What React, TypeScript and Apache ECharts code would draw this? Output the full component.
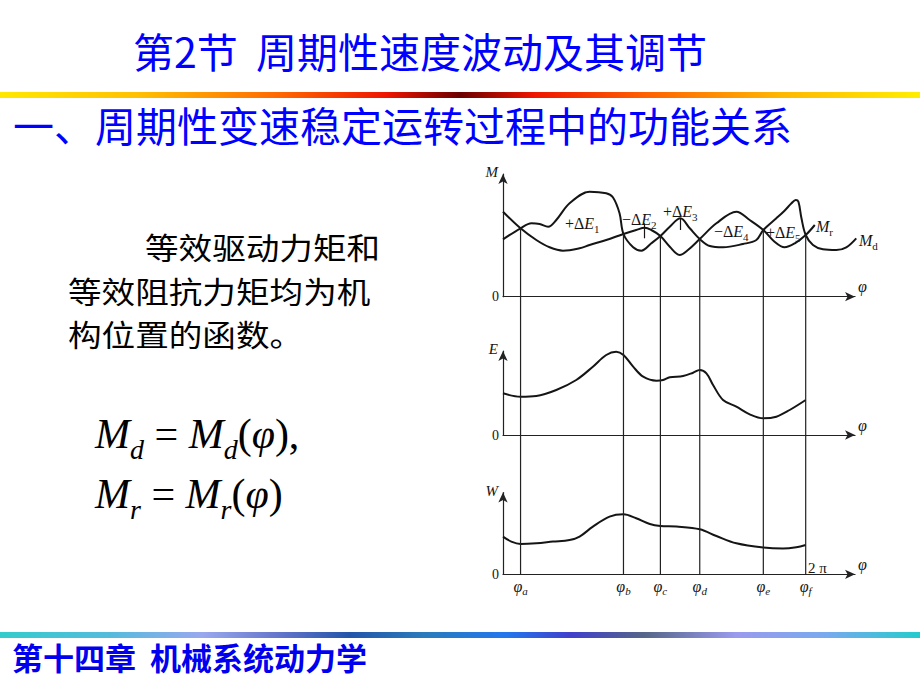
import React, { useEffect, useRef } from "react";
import * as echarts from "echarts";

// ---------- data (φ in units where 2π = 100; values in px-like units above each axis) ----------
const MD_PHI = [0, 5.8, 9.4, 12.1, 14.9, 17.6, 22.0, 28.6, 34.1, 36.3, 38.5, 39.8, 43.0, 45.7, 49.0, 52.0, 55.1, 58.6, 61.7, 65.0, 68.3, 72.7, 79.3, 83.7, 86.0, 90.3, 93.0, 95.3, 96.7, 97.6, 98.6, 100, 102.4, 105.7, 110.1, 113.4, 116.7];
const MD_VAL = [57.4, 68.4, 73.4, 72.7, 70.0, 76.7, 93.4, 105.0, 103.4, 99.4, 83.4, 62.7, 49.4, 46.0, 53.4, 60.7, 70.0, 78.4, 68.4, 57.7, 50.7, 49.4, 52.7, 56.7, 66.7, 78.4, 86.0, 93.4, 96.7, 95.0, 78.4, 61.7, 51.7, 47.4, 46.7, 49.4, 58.4];

const MR_PHI = [0, 5.8, 11.0, 15.4, 19.8, 25.3, 28.6, 34.1, 39.8, 44.0, 46.8, 49.0, 52.0, 55.1, 58.4, 61.1, 65.0, 70.5, 77.1, 81.5, 86.0, 89.7, 93.0, 96.4, 100, 103.0];
const MR_VAL = [85.0, 68.4, 56.7, 49.4, 46.0, 48.4, 51.7, 56.7, 62.7, 66.7, 69.0, 66.7, 60.7, 50.0, 41.7, 46.7, 57.7, 73.4, 85.0, 76.7, 66.7, 55.0, 49.4, 53.4, 61.7, 71.7];

const E_PHI = [0, 5.8, 11.0, 17.6, 24.2, 29.7, 34.1, 37.4, 39.8, 43.0, 46.3, 50.7, 52.9, 55.1, 59.5, 62.8, 65.0, 67.2, 69.4, 72.7, 77.1, 81.5, 86.0, 90.3, 94.7, 100];
const E_VAL = [41.7, 38.3, 39.0, 45.0, 55.0, 68.3, 80.0, 83.3, 80.0, 68.3, 58.3, 54.3, 55.0, 57.7, 59.0, 62.3, 65.0, 61.7, 50.0, 35.0, 28.3, 20.7, 16.7, 18.3, 25.0, 35.0];

const W_PHI = [0, 2.75, 5.8, 11.0, 16.5, 22.0, 25.3, 29.7, 35.2, 39.8, 44.0, 48.5, 52.0, 57.3, 65.0, 70.5, 77.1, 86.0, 92.5, 96.9, 100];
const W_VAL = [37.7, 32.7, 30.3, 31.0, 32.7, 34.3, 37.7, 47.7, 57.7, 60.0, 56.0, 50.3, 48.3, 47.7, 45.0, 38.3, 31.0, 26.7, 25.7, 27.0, 29.3];

const PHI_MARKS = [5.8, 39.8, 52.0, 65.0, 86.0, 100];
const PHI_NAMES = ["a", "b", "c", "d", "e", "f"];
const CROSS_VAL = [68.4, 62.7, 60.7, 57.7, 66.7, 61.7];

const TICK_MARKS = [
  { phi: 46.5, from: 73.4, to: 58.4 },
  { phi: 58.6, from: 78.4, to: 66.7 },
];

const DELTA_SIGNS = ["+", "−", "+", "−", "+"];
const DELTA_INDEX = ["1", "2", "3", "4", "5"];

const TITLE = "第2节  周期性速度波动及其调节";
const SUBTITLE = "一、周期性变速稳定运转过程中的功能关系";
const BODY = ["等效驱动力矩和", "等效阻抗力矩均为机", "构位置的函数。"];
const FOOTER = "第十四章  机械系统动力学";

// ---------- layout ----------
const LEFT = 503;
const UNIT = 3.027;
const XMAX = 116.3;
const GW = XMAX * UNIT;
const PANELS = [
  { top: 174, axisY: 296.7, name: "M" },
  { top: 351, axisY: 435, name: "E" },
  { top: 492.5, axisY: 574.3, name: "W" },
];
const TOP_H = PANELS[0].axisY - PANELS[0].top;
const OVER_MIN = -(PANELS[2].axisY - PANELS[0].axisY);

const CJK = '"Noto Sans CJK SC", sans-serif';
const SERIF = '"Liberation Serif", "DejaVu Serif", serif';
const INK = "#151515";

const zip = (a: number[], b: number[]) => a.map((x, i) => [x, b[i]]);

function buildOption(): any {
  const grids: any[] = PANELS.map((p) => ({
    left: LEFT,
    top: p.top,
    width: GW,
    height: p.axisY - p.top,
  }));
  grids.push({ left: LEFT, top: PANELS[0].top, width: GW, height: PANELS[2].axisY - PANELS[0].top });

  const axisLine = {
    show: true,
    symbol: ["none", "arrow"],
    symbolSize: [7, 10],
    lineStyle: { color: "#222", width: 1.2 },
  };

  const xAxes: any[] = PANELS.map((p, i) => ({
    type: "value",
    gridIndex: i,
    min: 0,
    max: XMAX,
    axisLine,
    axisTick: { show: false },
    splitLine: { show: false },
    axisLabel:
      i === 2
        ? {
            show: true,
            customValues: PHI_MARKS,
            margin: 2,
            formatter: (v: number) => {
              const k = PHI_MARKS.indexOf(v);
              return "{p|φ}{s|" + (k >= 0 ? PHI_NAMES[k] : "") + "}";
            },
            rich: {
              p: { fontFamily: SERIF, fontStyle: "italic", fontSize: 16, color: INK, lineHeight: 20, verticalAlign: "middle" },
              s: { fontFamily: SERIF, fontStyle: "italic", fontSize: 11, color: INK, lineHeight: 11, verticalAlign: "bottom" },
            },
          }
        : { show: false },
  }));
  xAxes.push({ type: "value", gridIndex: 3, min: 0, max: XMAX, show: false });

  const yAxes: any[] = PANELS.map((p, i) => ({
    type: "value",
    gridIndex: i,
    min: 0,
    max: p.axisY - p.top,
    axisLine,
    axisTick: { show: false },
    splitLine: { show: false },
    axisLabel: { show: true, customValues: [0], margin: 4, fontFamily: SERIF, fontSize: 14, color: INK },
    name: p.name,
    nameLocation: "end",
    nameGap: 2,
    nameTextStyle: {
      fontFamily: SERIF,
      fontStyle: "italic",
      fontSize: 15,
      color: INK,
      align: "right",
      verticalAlign: "middle",
      padding: [0, 5, 0, 0],
    },
  }));
  yAxes.push({ type: "value", gridIndex: 3, min: OVER_MIN, max: TOP_H, show: false });

  const curve = (data: number[][], gi: number, extra: any = {}) => ({
    type: "line",
    xAxisIndex: gi,
    yAxisIndex: gi,
    data,
    smooth: 0.35,
    symbol: "none",
    clip: false,
    lineStyle: { color: INK, width: 2 },
    ...extra,
  });

  const series: any[] = [
    curve(zip(MD_PHI, MD_VAL), 0),
    curve(zip(MR_PHI, MR_VAL), 0, {
      markLine: {
        silent: true,
        symbol: "none",
        label: { show: false },
        lineStyle: { color: INK, width: 1.2, type: "solid" },
        data: TICK_MARKS.map((t) => [{ coord: [t.phi, t.from] }, { coord: [t.phi, t.to] }]),
      },
    }),
    curve(zip(E_PHI, E_VAL), 1),
    curve(zip(W_PHI, W_VAL), 2),
    ...PHI_MARKS.map((phi, i) => ({
      type: "line",
      xAxisIndex: 3,
      yAxisIndex: 3,
      data: [
        [phi, CROSS_VAL[i]],
        [phi, OVER_MIN],
      ],
      symbol: "none",
      clip: false,
      lineStyle: { color: "#222", width: 1.2 },
    })),
  ];

  const deltaPos = [
    [565, 223],
    [622, 219],
    [663, 211.5],
    [714, 231],
    [766, 232.5],
  ];
  const smallRich = {
    n: { fontFamily: SERIF, fontSize: 16, fill: INK, lineHeight: 22, verticalAlign: "middle" },
    i: { fontFamily: SERIF, fontStyle: "italic", fontSize: 16, fill: INK, lineHeight: 22, verticalAlign: "middle" },
    s: { fontFamily: SERIF, fontSize: 11, fill: INK, lineHeight: 10, verticalAlign: "bottom" },
  };

  const textEl = (x: number, y: number, text: string, style: any, extra: any = {}) => ({
    type: "text",
    x,
    y,
    silent: true,
    ...extra,
    style: { text, align: "left", verticalAlign: "middle", textAlign: "left", textVerticalAlign: "middle", ...style },
  });

  const fRich = {
    M: { fontFamily: SERIF, fontStyle: "italic", fontSize: 42, fill: "#000", lineHeight: 58, verticalAlign: "middle" },
    s: { fontFamily: SERIF, fontStyle: "italic", fontSize: 28, fill: "#000", lineHeight: 27, verticalAlign: "bottom" },
    n: { fontFamily: SERIF, fontSize: 42, fill: "#000", lineHeight: 58, verticalAlign: "middle" },
  };

  const axisEndY = PANELS.map((p) => p.axisY - 10);

  const graphic: any[] = [
    {
      type: "rect",
      silent: true,
      shape: { x: 0, y: 92, width: 920, height: 6 },
      style: {
        fill: new echarts.graphic.LinearGradient(0, 0, 1, 0, [
          { offset: 0, color: "#ffe800" },
          { offset: 0.15, color: "#ffc000" },
          { offset: 0.3, color: "#ff6a00" },
          { offset: 0.42, color: "#ee1500" },
          { offset: 0.5, color: "#6a0000" },
          { offset: 0.58, color: "#ee1500" },
          { offset: 0.7, color: "#ff6000" },
          { offset: 0.85, color: "#ffb800" },
          { offset: 1, color: "#ffee00" },
        ]),
      },
    },
    {
      type: "rect",
      silent: true,
      shape: { x: 0, y: 632, width: 920, height: 6 },
      style: {
        fill: new echarts.graphic.LinearGradient(0, 0, 1, 0, [
          { offset: 0, color: "#33cccc" },
          { offset: 0.12, color: "#55bbdd" },
          { offset: 0.22, color: "#99a8ee" },
          { offset: 0.3, color: "#6677cc" },
          { offset: 0.38, color: "#2255aa" },
          { offset: 0.46, color: "#2a7bbb" },
          { offset: 0.55, color: "#2277ee" },
          { offset: 0.62, color: "#4040cc" },
          { offset: 0.7, color: "#556688" },
          { offset: 0.8, color: "#9a9aee" },
          { offset: 0.9, color: "#77aaee" },
          { offset: 1, color: "#22cccc" },
        ]),
      },
    },
    textEl(133, 50, TITLE, { font: `41px ${CJK}`, fill: "#0000ff" }),
    textEl(13, 124, SUBTITLE, { font: `41px ${CJK}`, fill: "#0000ff" }),
    textEl(145, 246, BODY[0], { font: `30px ${CJK}`, fill: "#000" }, { scaleX: 1.12 }),
    textEl(68, 289.5, BODY[1], { font: `30px ${CJK}`, fill: "#000" }, { scaleX: 1.12 }),
    textEl(68, 333, BODY[2], { font: `30px ${CJK}`, fill: "#000" }, { scaleX: 1.12 }),
    textEl(95, 434, "{M|M}{s|d}{n| = }{M|M}{s|d}{n|(}{M|φ}{n|),}", { rich: fRich, fill: "#000" }),
    textEl(95, 494, "{M|M}{s|r}{n| = }{M|M}{s|r}{n|(}{M|φ}{n|)}", { rich: fRich, fill: "#000" }),
    textEl(12, 656, FOOTER, {
      font: `bold 31px ${CJK}`,
      fill: "#0000ee",
      textShadowColor: "#000070",
      textShadowOffsetX: 1,
      textShadowOffsetY: 1,
      textShadowBlur: 0,
    }),
    ...deltaPos.map((p, k) =>
      textEl(p[0], p[1], "{n|" + DELTA_SIGNS[k] + "Δ}{i|E}{s|" + DELTA_INDEX[k] + "}", { rich: smallRich, fill: INK })
    ),
    textEl(816, 226, "{i|M}{s|r}", { rich: smallRich, fill: INK }),
    textEl(859, 240.5, "{i|M}{s|d}", { rich: smallRich, fill: INK }),
    textEl(808, 568, "2 π", { font: `15px ${SERIF}`, fill: INK }),
    ...axisEndY.map((y) => textEl(858, y, "φ", { font: `italic 16px ${SERIF}`, fill: INK })),
  ];

  return {
    animation: false,
    backgroundColor: "#ffffff",
    grid: grids,
    xAxis: xAxes,
    yAxis: yAxes,
    series,
    graphic,
  };
}

export default function App() {
  const ref = useRef<HTMLDivElement>(null);
  useEffect(() => {
    if (!ref.current) return;
    const chart = echarts.init(ref.current, undefined, { renderer: "svg" });
    chart.setOption(buildOption());
    return () => chart.dispose();
  }, []);
  return (
    <div
      ref={ref}
      style={{ position: "fixed", left: 0, top: 0, width: 920, height: 690, background: "#fff" }}
    />
  );
}
